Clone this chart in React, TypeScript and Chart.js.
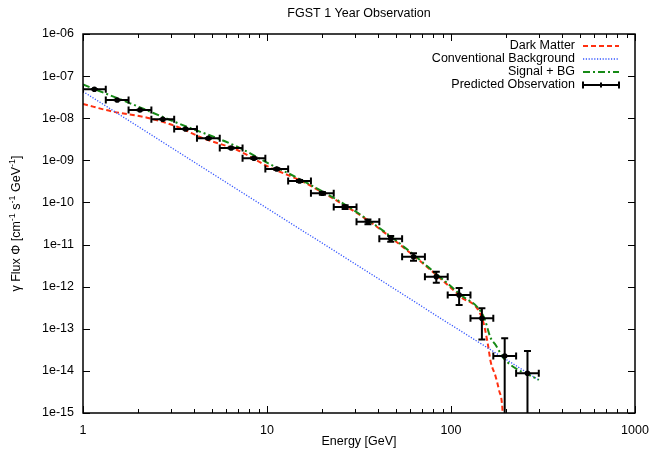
import { useEffect, useRef } from 'react';
import { Chart, registerables } from 'chart.js';

Chart.register(...registerables);

// ---------- text ----------
const chartTitle = 'FGST 1 Year Observation';
const xAxisTitle = 'Energy [GeV]';
const yAxisTitleParts: [string, boolean][] = [
  ['\u03b3 Flux \u03a6 [cm', false],
  ['-1', true],
  [' s', false],
  ['-1', true],
  [' GeV', false],
  ['-1', true],
  [']', false],
];
const legendLabels = ['Dark Matter', 'Conventional Background', 'Signal + BG', 'Predicted Observation'];

// ---------- ticks ----------
const xTickValues = [1, 10, 100, 1000];
const xTickLabels = ['1', '10', '100', '1000'];
const yTickValues = [1e-15, 1e-14, 1e-13, 1e-12, 1e-11, 1e-10, 1e-9, 1e-8, 1e-7, 1e-6];
const yTickLabels = ['1e-15', '1e-14', '1e-13', '1e-12', '1e-11', '1e-10', '1e-09', '1e-08', '1e-07', '1e-06'];

// ---------- Dark Matter (red) ----------
const dmEnergy = [1, 1.457, 2.23, 3.25, 4.5, 6.89, 10.17, 15.18, 20.25, 27.02, 36.06, 47.5, 63.4, 84.6, 111.4, 148.6, 158.2, 164.3, 174.9, 182.3, 190.2, 192.1];
const dmFlux = [2.18e-8, 1.43e-8, 1.03e-8, 6.29e-9, 3.34e-9, 1.76e-9, 7.06e-10, 3.32e-10, 1.68e-10, 8.01e-11, 3.53e-11, 1.43e-11, 5.2e-12, 1.79e-12, 6.0e-13, 1.62e-13, 4.59e-14, 1.65e-14, 7.28e-15, 3.51e-15, 1.29e-15, 5e-16];

// ---------- Conventional Background (blue) ----------
const bgEnergy = [1, 6.31, 41.4, 87.8, 300];
const bgFlux = [4.31e-8, 2.6e-10, 1.44e-12, 1.77e-13, 6.07e-15];

// ---------- Signal + BG (green) ----------
const sumEnergy = [1, 1.803, 3.29, 6.89, 10.17, 15.18, 27.02, 47.5, 84.6, 111.4, 150.5, 164.3, 174.9, 193.4, 300];
const sumFlux = [6.32e-8, 2.26e-8, 7.57e-9, 2.11e-9, 8.5e-10, 3.51e-10, 8.46e-11, 1.51e-11, 1.89e-12, 6.7e-13, 1.94e-13, 6.04e-14, 4.12e-14, 1.99e-14, 6.07e-15];

// ---------- Predicted Observation (black, xy error bars) ----------
const obsEnergy = [1.153, 1.534, 2.04, 2.714, 3.61, 4.801, 6.386, 8.494, 11.3, 15.03, 19.99, 26.58, 35.36, 47.03, 62.55, 83.2, 110.7, 147.2, 195.8, 260.4];
const obsEnergyLow = [1, 1.33, 1.769, 2.353, 3.13, 4.163, 5.537, 7.365, 9.796, 13.03, 17.33, 23.05, 30.66, 40.78, 54.24, 72.15, 95.96, 127.6, 169.8, 225.9];
const obsEnergyHigh = [1.33, 1.769, 2.353, 3.13, 4.163, 5.537, 7.365, 9.796, 13.03, 17.33, 23.05, 30.66, 40.78, 54.24, 72.15, 95.96, 127.6, 169.8, 225.9, 300];
const obsFlux = [4.86e-8, 2.71e-8, 1.57e-8, 9.42e-9, 5.55e-9, 3.34e-9, 1.96e-9, 1.12e-9, 6.22e-10, 3.23e-10, 1.65e-10, 7.8e-11, 3.49e-11, 1.38e-11, 5.15e-12, 1.73e-12, 6.34e-13, 1.77e-13, 2.26e-14, 8.76e-15];
const obsFluxHigh = [4.93e-8, 2.75e-8, 1.59e-8, 9.57e-9, 5.65e-9, 3.41e-9, 2.01e-9, 1.16e-9, 6.5e-10, 3.43e-10, 1.78e-10, 8.6e-11, 3.95e-11, 1.6e-11, 6.2e-12, 2.27e-12, 9.29e-13, 3.06e-13, 5.94e-14, 2.96e-14];
const obsFluxLow = [4.79e-8, 2.67e-8, 1.55e-8, 9.27e-9, 5.45e-9, 3.27e-9, 1.91e-9, 1.08e-9, 5.95e-10, 3.04e-10, 1.52e-10, 7.0e-11, 3.05e-11, 1.17e-11, 4.14e-12, 1.24e-12, 3.67e-13, 5.6e-14, 1e-16, 1e-16];

// ---------- styles ----------
const FONT = "'Liberation Sans', Arial, Helvetica, sans-serif";
const FONT_SIZE = 12.5;
const RED = '#ff3010';
const BLUE = '#3355ff';
const GREEN = '#168a16';
const BLACK = '#000000';
const DM_DASH = [5, 3];
const BG_DASH = [1.2, 1.6];
const SUM_DASH = [7, 3, 2, 3];

const pts = (xs: number[], ys: number[]) => xs.map((x, i) => ({ x, y: ys[i] }));

const decorPlugin = {
  id: 'decor',
  afterDatasetsDraw(chart: any) {
    const { ctx, chartArea: a, scales } = chart;
    const xs = scales.x;
    const ys = scales.y;
    ctx.save();
    ctx.beginPath();
    ctx.rect(a.left, a.top, a.right - a.left, a.bottom - a.top);
    ctx.clip();
    ctx.strokeStyle = BLACK;
    ctx.lineWidth = 2;
    ctx.setLineDash([]);
    const cap = 3.5;
    for (let i = 0; i < obsEnergy.length; i++) {
      const px = xs.getPixelForValue(obsEnergy[i]);
      const py = ys.getPixelForValue(obsFlux[i]);
      const x0 = xs.getPixelForValue(obsEnergyLow[i]);
      const x1 = xs.getPixelForValue(obsEnergyHigh[i]);
      const y0 = ys.getPixelForValue(obsFluxHigh[i]);
      const y1 = ys.getPixelForValue(obsFluxLow[i]);
      ctx.beginPath();
      ctx.moveTo(x0, py); ctx.lineTo(x1, py);
      ctx.moveTo(x0, py - cap); ctx.lineTo(x0, py + cap);
      ctx.moveTo(x1, py - cap); ctx.lineTo(x1, py + cap);
      ctx.moveTo(px, y0); ctx.lineTo(px, y1);
      ctx.moveTo(px - cap, y0); ctx.lineTo(px + cap, y0);
      ctx.moveTo(px - cap, y1); ctx.lineTo(px + cap, y1);
      ctx.stroke();
    }
    ctx.restore();
  },
  afterDraw(chart: any) {
    const { ctx, chartArea: a, scales } = chart;
    const xs = scales.x;
    const ys = scales.y;
    ctx.save();
    ctx.setLineDash([]);
    ctx.strokeStyle = BLACK;
    ctx.lineWidth = 1;
    ctx.beginPath();
    const major = 7;
    const minor = 4;
    for (let d = 0; d < xTickValues.length; d++) {
      const v = xTickValues[d];
      const px = Math.round(xs.getPixelForValue(v)) + 0.5;
      ctx.moveTo(px, a.bottom); ctx.lineTo(px, a.bottom - major);
      ctx.moveTo(px, a.top); ctx.lineTo(px, a.top + major);
      if (d < xTickValues.length - 1) {
        for (let m = 2; m <= 9; m++) {
          const mx = Math.round(xs.getPixelForValue(v * m)) + 0.5;
          ctx.moveTo(mx, a.bottom); ctx.lineTo(mx, a.bottom - minor);
          ctx.moveTo(mx, a.top); ctx.lineTo(mx, a.top + minor);
        }
      }
    }
    for (const v of yTickValues) {
      const py = Math.round(ys.getPixelForValue(v)) + 0.5;
      ctx.moveTo(a.left, py); ctx.lineTo(a.left + major, py);
      ctx.moveTo(a.right, py); ctx.lineTo(a.right - major, py);
    }
    ctx.stroke();
    ctx.lineWidth = 1.5;
    ctx.strokeRect(a.left, a.top, a.right - a.left, a.bottom - a.top);

    ctx.fillStyle = BLACK;
    ctx.font = `${FONT_SIZE}px ${FONT}`;
    ctx.textAlign = 'center';
    ctx.textBaseline = 'middle';
    ctx.fillText(chartTitle, (a.left + a.right) / 2, 14);
    ctx.fillText(xAxisTitle, (a.left + a.right) / 2, 442);

    ctx.save();
    ctx.translate(17, (a.top + a.bottom) / 2);
    ctx.rotate(-Math.PI / 2);
    const normalFont = `${FONT_SIZE}px ${FONT}`;
    const supFont = `9px ${FONT}`;
    let total = 0;
    for (const [t, sup] of yAxisTitleParts) {
      ctx.font = sup ? supFont : normalFont;
      total += ctx.measureText(t).width;
    }
    let cx = -total / 2;
    ctx.textAlign = 'left';
    for (const [t, sup] of yAxisTitleParts) {
      ctx.font = sup ? supFont : normalFont;
      ctx.fillText(t, cx, sup ? -4 : 0);
      cx += ctx.measureText(t).width;
    }
    ctx.restore();

    const textRight = 575;
    const lx0 = 583;
    const lx1 = 619;
    const rowY = [46, 59, 72, 85];
    ctx.font = `${FONT_SIZE}px ${FONT}`;
    ctx.textAlign = 'right';
    ctx.textBaseline = 'middle';
    for (let i = 0; i < legendLabels.length; i++) {
      ctx.fillStyle = BLACK;
      ctx.fillText(legendLabels[i], textRight, rowY[i]);
    }
    const drawSample = (y: number, color: string, width: number, dash: number[]) => {
      ctx.beginPath();
      ctx.strokeStyle = color;
      ctx.lineWidth = width;
      ctx.setLineDash(dash);
      ctx.moveTo(lx0, y); ctx.lineTo(lx1, y);
      ctx.stroke();
    };
    drawSample(rowY[0], RED, 2, DM_DASH);
    drawSample(rowY[1], BLUE, 1.3, BG_DASH);
    drawSample(rowY[2], GREEN, 2, SUM_DASH);
    drawSample(rowY[3], BLACK, 2, []);
    ctx.beginPath();
    ctx.moveTo(lx0, rowY[3] - 3.5); ctx.lineTo(lx0, rowY[3] + 3.5);
    ctx.moveTo(lx1, rowY[3] - 3.5); ctx.lineTo(lx1, rowY[3] + 3.5);
    ctx.moveTo((lx0 + lx1) / 2, rowY[3] - 2.5); ctx.lineTo((lx0 + lx1) / 2, rowY[3] + 2.5);
    ctx.stroke();
    ctx.restore();
  },
};

export default function App() {
  const ref = useRef<HTMLCanvasElement | null>(null);
  useEffect(() => {
    if (!ref.current) return;
    Chart.defaults.font.family = FONT;
    Chart.defaults.font.size = FONT_SIZE;
    Chart.defaults.color = BLACK;
    const chart = new Chart(ref.current, {
      type: 'scatter',
      data: {
        datasets: [
          {
            label: legendLabels[3],
            data: pts(obsEnergy, obsFlux),
            showLine: false,
            pointRadius: 2.8,
            pointStyle: 'circle',
            pointBackgroundColor: BLACK,
            pointBorderColor: BLACK,
            borderWidth: 0,
            order: 0,
          },
          {
            label: legendLabels[2],
            data: pts(sumEnergy, sumFlux),
            showLine: true,
            borderColor: GREEN,
            borderWidth: 2,
            borderDash: SUM_DASH,
            pointRadius: 0,
            cubicInterpolationMode: 'monotone',
            order: 1,
          },
          {
            label: legendLabels[1],
            data: pts(bgEnergy, bgFlux),
            showLine: true,
            borderColor: BLUE,
            borderWidth: 1.3,
            borderDash: BG_DASH,
            pointRadius: 0,
            order: 2,
          },
          {
            label: legendLabels[0],
            data: pts(dmEnergy, dmFlux),
            showLine: true,
            borderColor: RED,
            borderWidth: 2,
            borderDash: DM_DASH,
            pointRadius: 0,
            cubicInterpolationMode: 'monotone',
            order: 3,
          },
        ],
      },
      options: {
        responsive: false,
        animation: false,
        devicePixelRatio: 1,
        layout: { padding: { top: 34, right: 17, left: 0, bottom: 0 } },
        plugins: {
          legend: { display: false },
          title: { display: false },
          tooltip: { enabled: false },
        },
        events: [],
        scales: {
          x: {
            type: 'logarithmic',
            min: 1,
            max: 1000,
            grid: { display: false, drawTicks: false },
            border: { display: false },
            ticks: {
              autoSkip: false,
              maxRotation: 0,
              padding: 10,
              font: { size: FONT_SIZE, family: FONT },
              color: BLACK,
              callback: (v: any) => {
                const i = xTickValues.indexOf(Number(v));
                return i >= 0 ? xTickLabels[i] : '';
              },
            },
            afterBuildTicks: (s: any) => {
              s.ticks = xTickValues.map((value) => ({ value }));
            },
            afterFit: (s: any) => {
              s.height = 43;
              s.paddingLeft = 0;
              s.paddingRight = 0;
            },
          },
          y: {
            type: 'logarithmic',
            min: 1e-15,
            max: 1e-6,
            grid: { display: false, drawTicks: false },
            border: { display: false },
            ticks: {
              autoSkip: false,
              padding: 9,
              font: { size: FONT_SIZE, family: FONT },
              color: BLACK,
              callback: (v: any) => {
                const n = Number(v);
                const i = yTickValues.findIndex((t) => Math.abs(Math.log10(t) - Math.log10(n)) < 1e-6);
                return i >= 0 ? yTickLabels[i] : '';
              },
            },
            afterBuildTicks: (s: any) => {
              s.ticks = yTickValues.map((value) => ({ value }));
            },
            afterFit: (s: any) => {
              s.width = 83;
              s.paddingTop = 0;
              s.paddingBottom = 0;
            },
          },
        },
      } as any,
      plugins: [decorPlugin],
    });
    return () => chart.destroy();
  }, []);
  return (
    <div style={{ position: 'absolute', left: 0, top: 0, width: 652, height: 456, background: '#fff' }}>
      <canvas ref={ref} width={652} height={456} style={{ display: 'block' }} />
    </div>
  );
}
